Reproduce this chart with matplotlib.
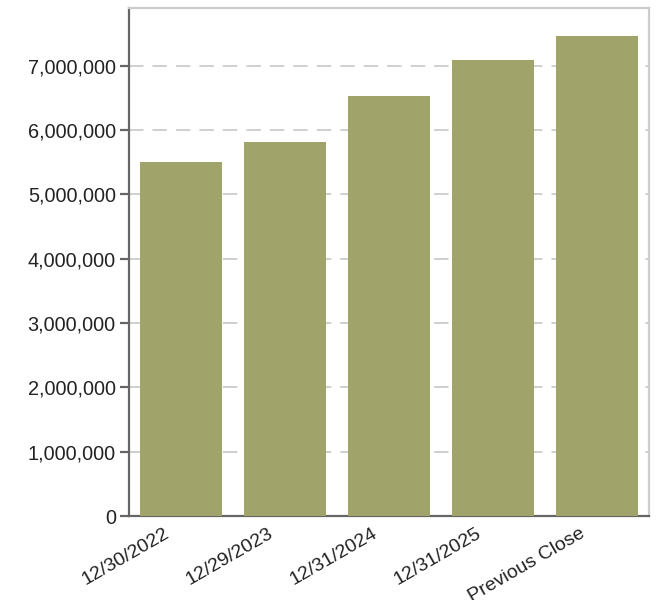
import matplotlib
matplotlib.use("Agg")
import matplotlib.pyplot as plt
import matplotlib.transforms as mtransforms
from matplotlib.ticker import FuncFormatter

categories = ["12/30/2022", "12/29/2023", "12/31/2024", "12/31/2025", "Previous Close"]
values = [5507000, 5818000, 6534000, 7094000, 7467000]
yticks = [0, 1000000, 2000000, 3000000, 4000000, 5000000, 6000000, 7000000]

plt.rcParams['font.family'] = ['Liberation Sans', 'DejaVu Sans']

fig = plt.figure(figsize=(6.6, 6.0), dpi=100)
ax = fig.add_axes([129/660, 84/600, 520/660, 508/600])

x = list(range(len(categories)))
ax.bar(x, values, width=0.79, color="#a0a36a", zorder=3)

ax.set_xlim(-0.5, len(categories) - 0.5)
ax.set_ylim(0, 7900000)
ax.set_yticks(yticks)
ax.yaxis.set_major_formatter(FuncFormatter(lambda v, p: f"{int(v):,}"))
ax.set_xticks(x)
ax.set_xticklabels(categories, rotation=30, ha="right", va="top")

ax.grid(axis="y", color="#cccccc", linewidth=1.3, linestyle=(0, (8, 5)), zorder=1)
ax.grid(axis="x", visible=False)

for side in ["top", "right"]:
    ax.spines[side].set_color("#cccccc")
    ax.spines[side].set_linewidth(1.6)
for side in ["left", "bottom"]:
    ax.spines[side].set_color("#666666")
    ax.spines[side].set_linewidth(1.6)

ax.tick_params(axis="y", length=6.5, width=1.6, color="#666666", labelsize=14.3, labelcolor="#222222", pad=3)
ax.tick_params(axis="x", length=0, labelsize=14, labelcolor="#222222", pad=6.5)

fig.canvas.draw()
offset = mtransforms.ScaledTranslation(-9/100, 0, fig.dpi_scale_trans)
for tick in ax.xaxis.get_major_ticks():
    tick.label1.set_transform(tick.label1.get_transform() + offset)

fig.savefig("out.png", dpi=100)
